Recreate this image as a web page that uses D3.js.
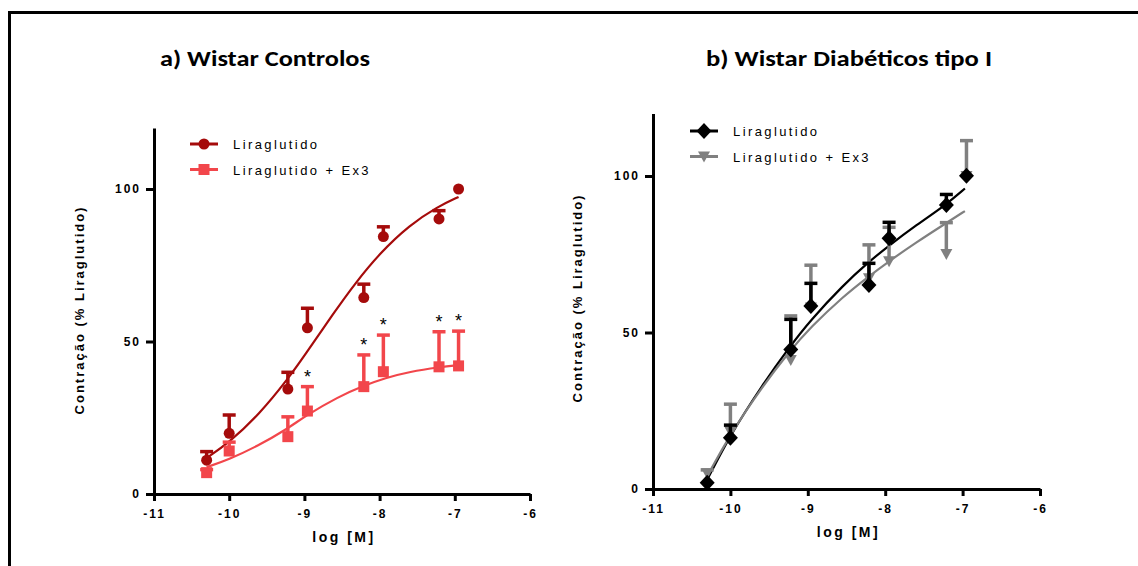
<!DOCTYPE html>
<html>
<head>
<meta charset="utf-8">
<script src="https://cdn.jsdelivr.net/npm/d3@7"></script>
<style>
	body { margin: 0; background: #fff; }
	svg { display: block; }
	.tick text { font-family: Arial, "Liberation Sans", sans-serif; font-weight: bold; font-size: 12px; letter-spacing: 2px; fill: #000; }
</style>
</head>
<body>
<div id="chart"></div>
<script>
// log [M] concentrations (same for every series)
var logConc = [-10.3, -10.0, -9.22, -8.96, -8.21, -7.95, -7.21, -6.95];

// panel a) Wistar Controlos
var ctrlLira = [11.1, 19.9, 34.4, 54.5, 64.4, 84.4, 90.2, 100];
var ctrlLiraErr = [13.9, 25.9, 39.9, 60.9, 68.8, 87.6, 92.9, 100];
var ctrlEx3 = [7.0, 14.1, 18.8, 27.2, 35.2, 40.1, 41.7, 42.0];
var ctrlEx3Err = [8.0, 17.0, 25.3, 35.2, 45.6, 52.1, 53.2, 53.4];
var ctrlStars = [3, 4, 5, 6, 7];

// fitted curves
var ctrlLiraFitX = [-10.3, -10.0, -9.6, -9.21, -9.0, -8.6, -8.34, -8.0, -7.6, -7.23, -6.95];
var ctrlLiraFitY = [11.8, 16.9, 26.1, 38.0, 45.3, 59.7, 68.6, 78.9, 88.2, 94.2, 97.4];
var ctrlEx3FitX = [-10.3, -10.0, -9.63, -9.21, -9.0, -8.55, -8.2, -7.93, -7.6, -7.2, -6.94];
var ctrlEx3FitY = [8.8, 11.4, 15.6, 21.6, 25.4, 31.9, 35.6, 38.0, 40.1, 41.6, 42.3];

// panel b) Wistar Diabéticos tipo I
var diabLira = [2.0, 16.4, 44.6, 58.5, 65.2, 80.1, 90.7, 100.1];
var diabLiraErr = [2.0, 20.4, 54.2, 65.7, 72.1, 85.2, 94.1, 100.1];
var diabEx3 = [5.0, 18.3, 41.2, 58.0, 67.3, 72.8, 75.1, 100.0];
var diabEx3Err = [6.1, 27.1, 55.3, 71.5, 78.0, 83.6, 85.1, 111.3];

var diabLiraFitX = [-10.29, -10.0, -9.6, -9.23, -8.97, -8.54, -8.22, -7.96, -7.6, -7.21, -6.97];
var diabLiraFitY = [3.4, 17.3, 32.8, 45.6, 53.8, 65.2, 72.4, 77.6, 84.3, 90.9, 96.0];
var diabEx3FitX = [-10.29, -10.0, -9.6, -9.23, -8.97, -8.54, -8.22, -7.96, -7.6, -7.21, -6.97];
var diabEx3FitY = [4.5, 17.6, 32.3, 44.2, 51.5, 61.6, 67.8, 72.6, 78.8, 85.0, 88.8];

var xTicks = [-11, -10, -9, -8, -7, -6];
var yTicks = [0, 50, 100];

var titles = ["a) Wistar Controlos", "b) Wistar Diabéticos tipo I"];
var seriesNames = ["Liraglutido", "Liraglutido + Ex3"];
var yTitle = "Contração (% Liraglutido)";
var xTitle = "log [M]";

var width = 1138;
var height = 566;
var font = "Arial, 'Liberation Sans', sans-serif";

var svg = d3.select("#chart").append("svg")
	.attr("width", width)
	.attr("height", height);

// frame round the whole figure
svg.append("path")
	.attr("d", "M9.5," + height + "V12.5H" + width)
	.attr("fill", "none")
	.attr("stroke", "#000")
	.attr("stroke-width", 3);

function marker(g, shape, x, y, color) {
	if (shape == "circle") {
		g.append("circle").attr("cx", x).attr("cy", y).attr("r", 5.5).attr("fill", color);
	} else if (shape == "square") {
		g.append("rect").attr("x", x-5.5).attr("y", y-5.5).attr("width", 11).attr("height", 11).attr("fill", color);
	} else if (shape == "diamond") {
		g.append("path").attr("d", "M" + x + "," + (y-8) + "L" + (x+7.5) + "," + y + "L" + x + "," + (y+8) + "L" + (x-7.5) + "," + y + "Z").attr("fill", color);
	} else {
		g.append("path").attr("d", "M" + (x-6) + "," + (y-5) + "L" + (x+6) + "," + (y-5) + "L" + x + "," + (y+6) + "Z").attr("fill", color);
	}
}

function drawPanel(p) {
	var x = d3.scaleLinear().domain([-11, -6]).range([p.left, p.right]);
	var y = d3.scaleLinear().domain([0, 120]).range([p.bottom, p.top]);

	var g = svg.append("g");

	g.append("text")
		.attr("x", p.titleX)
		.attr("y", 66)
		.attr("font-family", "Carlito, Lato, 'Open Sans', sans-serif")
		.attr("font-weight", "bold")
		.attr("font-size", 22)
		.attr("textLength", p.titleLen)
		.attr("lengthAdjust", "spacingAndGlyphs")
		.text(p.title);

	// fitted curves
	var line = d3.line()
		.x(function(d) { return x(d[0]); })
		.y(function(d) { return y(d[1]); })
		.curve(d3.curveBasis);

	p.series.forEach(function(s) {
		g.append("path")
			.datum(d3.zip(s.fitX, s.fitY))
			.attr("d", line)
			.attr("fill", "none")
			.attr("stroke", s.color)
			.attr("stroke-width", 2.2);
	});

	// draw order: lower series first where the reference hides it
	var order = p.reverse ? p.series.slice().reverse() : p.series;

	order.forEach(function(s) {
		var eg = g.append("g");
		for (var i = 0; i < logConc.length; i++) {
			var cx = x(logConc[i]);
			if (s.err[i] - s.values[i] >= 0.5) {
				eg.append("line")
					.attr("x1", cx).attr("x2", cx)
					.attr("y1", y(s.values[i])).attr("y2", y(s.err[i]))
					.attr("stroke", s.color).attr("stroke-width", 3.5);
				eg.append("line")
					.attr("x1", cx-6.5).attr("x2", cx+6.5)
					.attr("y1", y(s.err[i])).attr("y2", y(s.err[i]))
					.attr("stroke", s.color).attr("stroke-width", 3.5);
			}
			marker(eg, s.shape, cx, y(s.values[i]), s.color);
		}
	});

	if (p.stars) {
		var s = p.series[1];
		g.selectAll("text.star").data(p.stars).enter().append("text")
			.attr("class", "star")
			.attr("x", function(i) { return x(logConc[i]); })
			.attr("y", function(i) { return y(s.err[i]) - 4; })
			.attr("text-anchor", "middle")
			.attr("font-family", font)
			.attr("font-size", 18)
			.text("*");
	}

	// axes
	var xAxis = d3.axisBottom(x).tickValues(xTicks).tickSize(7).tickSizeOuter(0).tickPadding(8);
	var yAxis = d3.axisLeft(y).tickValues(yTicks).tickSize(8).tickSizeOuter(0).tickPadding(5);

	var gx = g.append("g").attr("transform", "translate(0," + p.bottom + ")").call(xAxis);
	var gy = g.append("g").attr("transform", "translate(" + p.left + ",0)").call(yAxis);
	[gx, gy].forEach(function(a) {
		a.select(".domain").attr("stroke-width", 3);
		a.selectAll(".tick line").attr("stroke-width", 3);
	});
	gx.selectAll(".tick text").text(function(d) { return d3.format("d")(d).replace("−", "-"); });

	g.append("text")
		.attr("x", (p.left + p.right)/2 + 2)
		.attr("y", p.bottom + 48)
		.attr("text-anchor", "middle")
		.attr("font-family", font)
		.attr("font-weight", "bold")
		.attr("font-size", 14)
		.attr("letter-spacing", 2.5)
		.text(xTitle);

	g.append("text")
		.attr("transform", "translate(" + (p.yTitleX) + "," + p.yTitleY + ") rotate(-90)")
		.attr("text-anchor", "middle")
		.attr("font-family", font)
		.attr("font-weight", "bold")
		.attr("font-size", 13)
		.attr("letter-spacing", 2)
		.text(yTitle);

	// legend
	p.series.forEach(function(s, i) {
		var ly = p.legendY + i*25.5;
		g.append("line")
			.attr("x1", p.legendX).attr("x2", p.legendX + 28)
			.attr("y1", ly).attr("y2", ly)
			.attr("stroke", s.color).attr("stroke-width", 3);
		marker(g, s.shape, p.legendX + 14, ly, s.color);
		g.append("text")
			.attr("x", p.legendX + 43)
			.attr("y", ly + 5)
			.attr("font-family", font)
			.attr("font-size", 13)
			.attr("letter-spacing", 2.4)
			.text(seriesNames[i]);
	});
}

drawPanel({
	title: titles[0], titleX: 160, titleLen: 210,
	left: 154, right: 530, top: 128, bottom: 494,
	yTitleX: 84, yTitleY: 310,
	legendX: 190, legendY: 144,
	stars: ctrlStars,
	series: [
		{ values: ctrlLira, err: ctrlLiraErr, fitX: ctrlLiraFitX, fitY: ctrlLiraFitY, color: "#a50b0b", shape: "circle" },
		{ values: ctrlEx3, err: ctrlEx3Err, fitX: ctrlEx3FitX, fitY: ctrlEx3FitY, color: "#f2464b", shape: "square" }
	]
});

drawPanel({
	title: titles[1], titleX: 706, titleLen: 286,
	left: 653, right: 1040, top: 113.4, bottom: 489,
	yTitleX: 582, yTitleY: 298,
	legendX: 690, legendY: 131,
	reverse: true,
	series: [
		{ values: diabLira, err: diabLiraErr, fitX: diabLiraFitX, fitY: diabLiraFitY, color: "#000000", shape: "diamond" },
		{ values: diabEx3, err: diabEx3Err, fitX: diabEx3FitX, fitY: diabEx3FitY, color: "#808080", shape: "triangle" }
	]
});
</script>
</body>
</html>
